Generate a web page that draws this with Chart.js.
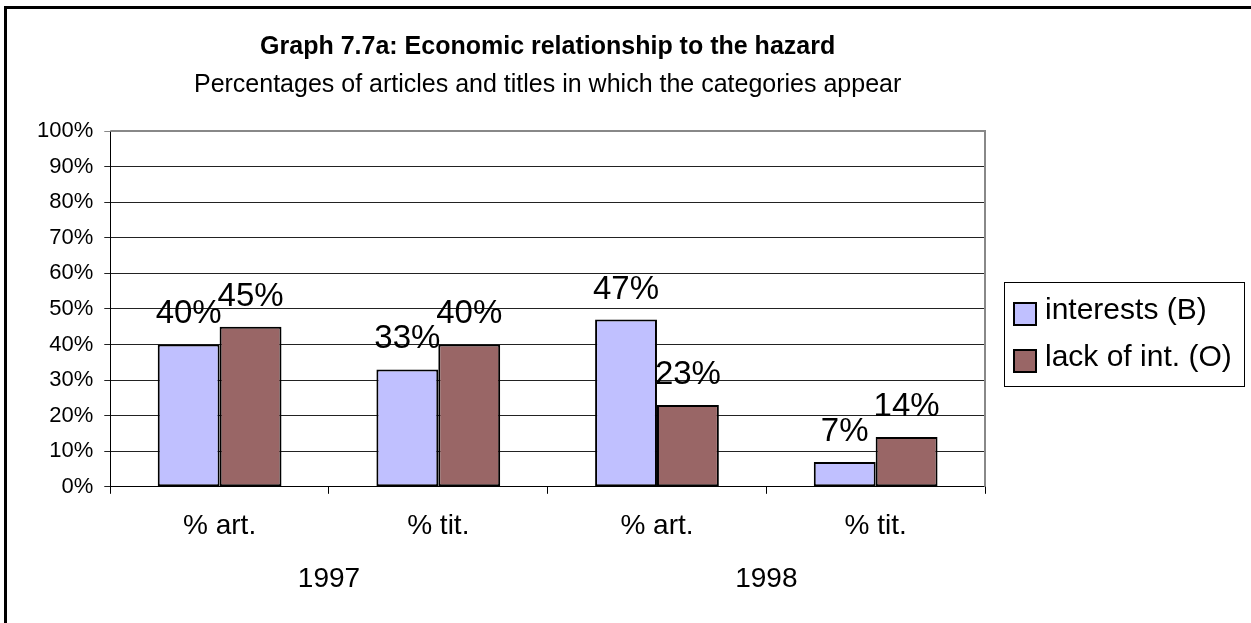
<!DOCTYPE html>
<html>
<head>
<meta charset="utf-8">
<script src="https://cdn.jsdelivr.net/npm/chart.js@4/dist/chart.umd.min.js"></script>
<style>
  html, body { margin: 0; padding: 0; background: #fff; overflow: hidden; }
  #wrap { position: relative; width: 1251px; height: 623px; }
  #frame { position: absolute; left: 4px; top: 6px; width: 1400px; height: 800px; border: 3px solid #000; }
  canvas { position: absolute; left: 0; top: 0; }
</style>
</head>
<body>
<div id="wrap">
  <div id="frame"></div>
  <canvas id="chart" width="1251" height="623"></canvas>
</div>
<script>
// Dữ liệu biểu đồ
const categories = ['% art.', '% tit.', '% art.', '% tit.'];
const years = ['1997', '1998'];
const interests = [40, 33, 47, 7];
const lackOfInt = [45, 40, 23, 14];
const seriesNames = ['interests (B)', 'lack of int. (O)'];
const seriesColors = ['#C0C0FF', '#996666'];

const FONT = "'Liberation Sans', Arial, sans-serif";

// Nhãn giá trị phía trên cột
const barLabels = {
    id: 'barLabels',
    afterDatasetsDraw(chart) {
        const ctx = chart.ctx;
        ctx.save();
        ctx.font = '33px ' + FONT;
        ctx.fillStyle = '#000';
        ctx.textAlign = 'center';
        ctx.textBaseline = 'alphabetic';
        chart.data.datasets.forEach((ds, i) => {
            chart.getDatasetMeta(i).data.forEach((bar, j) => {
                ctx.fillText(Math.round(ds.data[j]) + '%', bar.x, bar.y - 21);
            });
        });
        ctx.restore();
    }
};

// Viền vùng vẽ và chú thích có khung
const frameAndLegend = {
    id: 'frameAndLegend',
    afterDraw(chart) {
        const ctx = chart.ctx;
        const a = chart.chartArea;
        ctx.save();
        ctx.strokeStyle = '#888';
        ctx.lineWidth = 2;
        ctx.beginPath();
        ctx.moveTo(a.left, a.top);
        ctx.lineTo(a.right, a.top);
        ctx.lineTo(a.right, a.bottom);
        ctx.stroke();

        const lx = a.right + 19, ly = 282, lw = 240, lh = 104;
        ctx.strokeStyle = '#000';
        ctx.lineWidth = 1;
        ctx.strokeRect(lx + 0.5, ly + 0.5, lw, lh);
        ctx.font = '30px ' + FONT;
        ctx.textAlign = 'left';
        ctx.textBaseline = 'middle';
        chart.data.datasets.forEach((ds, i) => {
            const cy = ly + 29 + i * 47;
            ctx.fillStyle = ds.backgroundColor;
            ctx.fillRect(lx + 10, cy - 8, 22, 22);
            ctx.lineWidth = 2;
            ctx.strokeRect(lx + 10, cy - 8, 22, 22);
            ctx.fillStyle = '#000';
            ctx.fillText(ds.label, lx + 41, cy);
        });
        ctx.restore();
    }
};

new Chart(document.getElementById('chart'), {
    type: 'bar',
    data: {
        labels: categories,
        datasets: [
            { label: seriesNames[0], data: interests, backgroundColor: seriesColors[0] },
            { label: seriesNames[1], data: lackOfInt, backgroundColor: seriesColors[1] }
        ]
    },
    options: {
        responsive: false,
        animation: false,
        devicePixelRatio: 1,
        layout: { padding: { left: 26, right: 266, top: 0, bottom: 24 } },
        datasets: {
            bar: {
                borderColor: '#000',
                borderWidth: 2,
                borderSkipped: false,
                categoryPercentage: 0.566,
                barPercentage: 1
            }
        },
        plugins: {
            legend: { display: false },
            tooltip: { enabled: false },
            title: {
                display: true,
                fullSize: false,
                text: 'Graph 7.7a: Economic relationship to the hazard',
                color: '#000',
                font: { family: FONT, size: 25, weight: 'bold' },
                padding: { top: 32, bottom: 0 }
            },
            subtitle: {
                display: true,
                fullSize: false,
                text: 'Percentages of articles and titles in which the categories appear',
                color: '#000',
                font: { family: FONT, size: 25 },
                padding: { top: 8, bottom: 31 }
            }
        },
        scales: {
            x: {
                type: 'category',
                position: 'bottom',
                weight: 0,
                grid: { offset: true, drawOnChartArea: false, tickLength: 7, color: '#000' },
                border: { color: '#000', width: 1 },
                ticks: { color: '#000', padding: 16, font: { family: FONT, size: 28 } }
            },
            xYear: {
                type: 'category',
                position: 'bottom',
                weight: 1,
                labels: years,
                grid: { display: false, drawTicks: false, tickLength: 0 },
                border: { display: false },
                ticks: { color: '#000', padding: 3, font: { family: FONT, size: 28 } }
            },
            y: {
                min: 0,
                max: 100,
                ticks: {
                    stepSize: 10,
                    color: '#000',
                    padding: 11,
                    font: { family: FONT, size: 22 },
                    callback: v => v + '%'
                },
                grid: {
                    color: ctx => (ctx.tick && ctx.tick.value === 100 ? '#888' : '#222'),
                    tickLength: 6,
                    lineWidth: 1
                },
                border: { color: '#000', width: 1 }
            }
        }
    },
    plugins: [barLabels, frameAndLegend]
});
</script>
</body>
</html>
